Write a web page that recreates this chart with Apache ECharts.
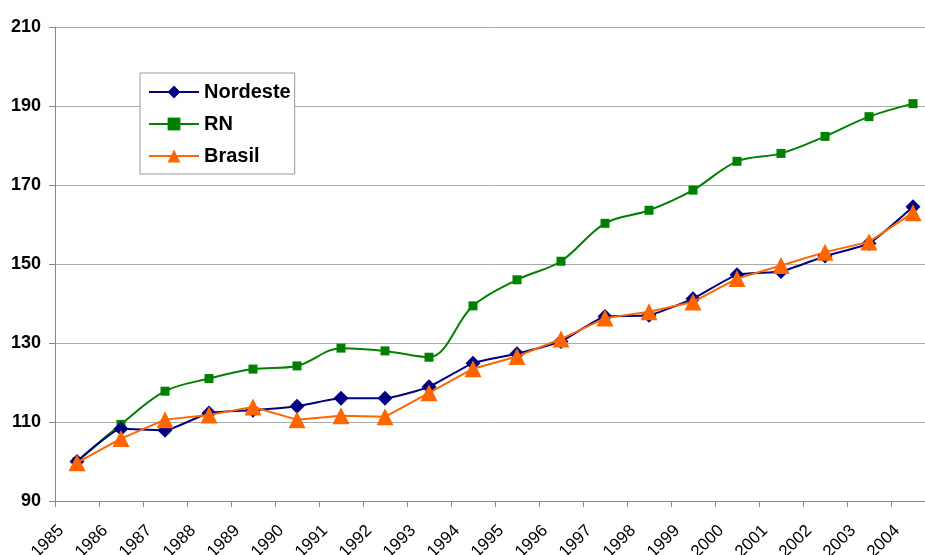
<!DOCTYPE html>
<html lang="pt-BR">
<head>
    <meta charset="UTF-8">
    <title>Nordeste, RN e Brasil</title>
    <style>
        body { margin: 0; padding: 0; background: #fff; }
        #chart-container { width: 925px; height: 555px; }
    </style>
</head>
<body>
    <div id="chart-container"></div>
    <script src="https://cdn.jsdelivr.net/npm/echarts@6.0.0/dist/echarts.min.js"></script>
    <script>
        // dados (índice, 1985 = 100)
        const years = [1985, 1986, 1987, 1988, 1989, 1990, 1991, 1992, 1993, 1994,
                       1995, 1996, 1997, 1998, 1999, 2000, 2001, 2002, 2003, 2004];
        const nordeste = [100, 108.3, 107.9, 112.3, 113, 114, 116, 116, 118.9, 124.9,
                          127.3, 130.4, 136.7, 137, 141.2, 147.3, 148.1, 152, 155.2, 164.5];
        const rn = [100, 109.4, 117.8, 121, 123.4, 124.2, 128.7, 128, 126.4, 139.4,
                    146, 150.7, 160.3, 163.6, 168.7, 176, 178, 182.3, 187.3, 190.6];
        const brasil = [99.7, 105.8, 110.6, 111.8, 113.8, 110.6, 111.6, 111.3, 117.4, 123.5,
                        126.6, 131, 136.3, 137.9, 140.4, 146.3, 149.6, 153, 155.6, 163];
        const yTicks = { min: 90, max: 210, step: 20 };

        const chart = echarts.init(document.getElementById('chart-container'));
        const font = 'Liberation Sans, Arial, sans-serif';

        // cada ano ocupa uma faixa; o ponto fica no meio dela
        const pts = arr => years.map((y, i) => [y + 0.5, arr[i]]);

        const option = {
            animation: false,
            backgroundColor: '#fff',
            // a área do gráfico passa um pouco da borda direita (recortada no original)
            grid: { left: 55, width: 880, top: 27, bottom: 54, outerBoundsMode: 'none' },
            legend: {
                orient: 'vertical',
                left: 140,
                top: 73,
                padding: [9, 4, 8, 8],
                itemWidth: 50,
                itemHeight: 16,
                itemGap: 12,
                backgroundColor: '#fff',
                borderColor: '#999',
                borderWidth: 1,
                textStyle: { fontFamily: font, fontSize: 20, fontWeight: 'bold', color: '#000' },
                data: ['Nordeste', 'RN', 'Brasil']
            },
            xAxis: {
                type: 'value',
                min: 1985,
                max: 2005,
                interval: 1,
                axisLine: { lineStyle: { color: '#888' } },
                axisTick: { length: 6, lineStyle: { color: '#888' } },
                splitLine: { show: false },
                axisLabel: {
                    rotate: 45,
                    margin: 21,
                    verticalAlign: 'top',
                    fontFamily: font,
                    fontSize: 17,
                    color: '#000',
                    formatter: v => (v < 2005 ? String(v) : '')
                }
            },
            yAxis: {
                type: 'value',
                min: yTicks.min,
                max: yTicks.max,
                interval: yTicks.step,
                axisLine: { show: true, lineStyle: { color: '#888' } },
                axisTick: { show: true, length: 6, lineStyle: { color: '#888' } },
                splitLine: { lineStyle: { color: '#aaa' } },
                axisLabel: { fontFamily: font, fontSize: 18, fontWeight: 'bold', color: '#000', margin: 14 }
            },
            series: [
                {
                    name: 'Nordeste',
                    type: 'line',
                    data: pts(nordeste),
                    smooth: 0.15,
                    symbol: 'diamond',
                    symbolSize: 15,
                    lineStyle: { color: '#000080', width: 2 },
                    itemStyle: { color: '#000080' },
                    z: 3
                },
                {
                    name: 'RN',
                    type: 'line',
                    data: pts(rn),
                    smooth: 0.35,
                    symbol: 'rect',
                    symbolSize: 9,
                    lineStyle: { color: '#008000', width: 2 },
                    itemStyle: { color: '#008000' },
                    z: 2
                },
                {
                    name: 'Brasil',
                    type: 'line',
                    data: pts(brasil),
                    symbol: 'triangle',
                    symbolSize: 17,
                    lineStyle: { color: '#ff6600', width: 2 },
                    itemStyle: { color: '#ff6600' },
                    z: 4
                }
            ]
        };

        chart.setOption(option);
    </script>
</body>
</html>
